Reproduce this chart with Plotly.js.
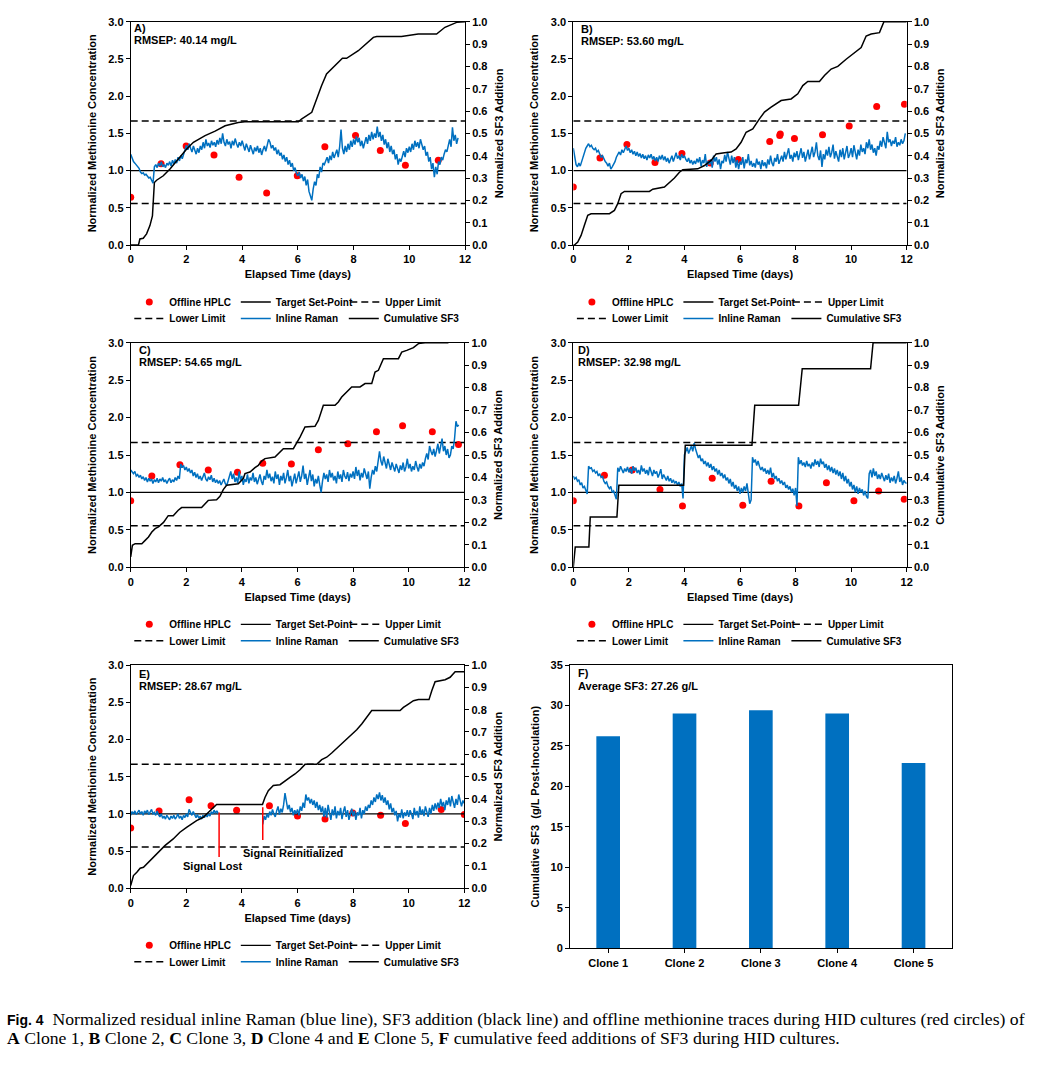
<!DOCTYPE html>
<html><head><meta charset="utf-8">
<script src="https://cdn.plot.ly/plotly-3.0.1.min.js"></script>
<style>body{margin:0;padding:0;background:#fff}#chart{width:1040px;height:1065px}</style>
</head><body><div id="chart"></div>
<script>
// ================= DATA =================
const ramanStep = 0.05;            // inline Raman sampling interval (days)
const timeSpan = [0, 12];          // culture duration (days)
const setPoint = 1.0;
const upperLimit = 1.667;
const lowerLimit = 0.556;

// ---- Clone 1 (A)
const hplcDaysA = [0, 1.09, 1.99, 2.99, 3.89, 4.88, 5.98, 6.97, 8.07, 8.96, 9.86, 11.04];
const hplcA     = [0.64, 1.09, 1.33, 1.21, 0.91, 0.70, 0.93, 1.32, 1.47, 1.27, 1.07, 1.14];
const sf3DaysA = [0,0.28,0.33,0.45,0.57,0.69,0.78,0.83,0.85,0.93,1.17,1.41,1.71,2.01,2.25,2.67,3.03,3.39,3.86,4.1,6.02,6.13,6.5,6.67,6.85,7.03,7.33,7.6,7.75,8.17,8.71,8.83,9.72,10.32,10.98,11.28,11.7,12];
const sf3A     = [0,0,0.027,0.03,0.05,0.087,0.13,0.22,0.28,0.29,0.31,0.34,0.385,0.43,0.46,0.49,0.51,0.534,0.549,0.552,0.552,0.564,0.594,0.654,0.713,0.766,0.803,0.836,0.836,0.87,0.93,0.934,0.934,0.945,0.945,0.975,0.997,1.0];
const ramanA = [
1.22,1.16,1.12,1.10,1.08,1.06,1.03,0.98,0.96,0.97,0.94,0.95,0.92,0.90,0.91,0.87,0.83,1.05,1.08,1.04,
1.10,1.06,1.12,1.05,1.08,1.04,1.10,1.07,1.12,1.06,1.14,1.09,1.15,1.10,1.18,1.13,1.20,1.16,1.22,1.30,
1.34,1.28,1.36,1.30,1.25,1.33,1.27,1.22,1.30,1.24,1.33,1.28,1.38,1.30,1.42,1.33,1.37,1.31,1.40,1.34,
1.38,1.32,1.41,1.35,1.44,1.36,1.50,1.38,1.33,1.42,1.35,1.39,1.30,1.40,1.34,1.43,1.36,1.31,1.38,1.33,
1.40,1.32,1.27,1.36,1.30,1.25,1.34,1.28,1.22,1.31,1.26,1.33,1.24,1.30,1.21,1.28,1.33,1.26,1.35,1.42,
1.38,1.30,1.34,1.27,1.31,1.22,1.28,1.20,1.24,1.15,1.21,1.12,1.18,1.08,1.14,1.05,1.10,1.00,1.04,0.96,
0.93,0.98,0.90,0.95,0.86,0.92,0.80,0.88,0.72,0.66,0.60,0.75,0.85,0.80,0.95,0.90,1.05,0.98,1.10,1.08,
1.12,1.18,1.10,1.20,1.14,1.25,1.17,1.22,1.28,1.18,1.32,1.55,1.30,1.22,1.33,1.25,1.36,1.28,1.40,1.32,
1.42,1.35,1.46,1.38,1.44,1.33,1.40,1.30,1.38,1.45,1.36,1.48,1.40,1.52,1.42,1.50,1.44,1.59,1.45,1.52,
1.40,1.48,1.35,1.42,1.30,1.38,1.25,1.33,1.22,1.28,1.15,1.22,1.08,1.16,1.12,1.20,1.26,1.18,1.30,1.24,
1.32,1.25,1.36,1.28,1.40,1.32,1.38,1.30,1.42,1.35,1.28,1.33,1.20,1.25,1.12,1.18,1.02,1.10,0.91,1.05,
0.95,1.12,1.08,1.18,1.14,1.22,1.28,1.25,1.35,1.42,1.32,1.58,1.40,1.48,1.36,1.44];

// ---- Clone 2 (B)
const hplcDaysB = [0, 0.96, 1.93, 2.94, 3.91, 4.93, 5.94, 7.07, 7.43, 7.45, 7.96, 8.97, 9.93, 10.92, 11.92];
const hplcB     = [0.78, 1.17, 1.35, 1.11, 1.23, 1.10, 1.15, 1.39, 1.47, 1.49, 1.43, 1.48, 1.60, 1.86, 1.89];
const sf3DaysB = [0,0.04,0.16,0.28,0.4,0.52,0.64,1.3,1.48,1.6,1.72,1.84,2.74,2.86,3.28,3.46,3.64,3.82,3.94,4.48,4.72,4.96,5.14,5.44,5.68,5.86,6.04,6.22,6.46,6.7,6.88,7.12,7.3,7.48,7.84,8.08,8.26,8.44,8.86,9.04,9.28,9.52,9.82,10.06,10.36,10.54,10.72,11.02,11.18,12];
const sf3B     = [0,0,0.013,0.043,0.088,0.133,0.14,0.14,0.155,0.185,0.23,0.24,0.24,0.25,0.26,0.28,0.30,0.326,0.337,0.341,0.356,0.379,0.408,0.413,0.416,0.43,0.46,0.505,0.52,0.565,0.595,0.617,0.632,0.647,0.654,0.677,0.714,0.732,0.732,0.759,0.788,0.80,0.832,0.854,0.884,0.936,0.945,0.951,1.0,1.0];
const ramanB = [
1.30,1.15,1.08,1.05,1.10,1.06,1.12,1.18,1.25,1.30, 1.33,1.36,1.32,1.34,1.30,1.28,1.30,1.25,1.27,1.22,
1.18,1.20,1.15,1.12,1.10,1.06,1.10,1.02,1.05,1.08, 1.12,1.18,1.22,1.25,1.21,1.28,1.24,1.30,1.33,1.27,
1.30,1.24,1.28,1.22,1.26,1.20,1.25,1.19,1.23,1.17, 1.22,1.16,1.20,1.14,1.21,1.17,1.22,1.15,1.19,1.13,
1.18,1.12,1.20,1.15,1.21,1.14,1.19,1.12,1.17,1.10, 1.15,1.20,1.12,1.18,1.24,1.16,1.20,1.14,1.22,1.17,
1.20,1.15,1.12,1.17,1.10,1.14,1.08,1.13,1.09,1.16, 1.11,1.18,1.06,1.14,1.10,1.22,1.05,1.13,1.08,1.15,
1.04,1.20,1.12,1.18,1.08,1.15,1.02,1.13,1.10,1.21, 1.12,1.25,1.15,1.08,1.20,1.10,1.18,1.04,1.14,1.02,
1.12,1.08,1.18,1.03,1.15,1.10,1.22,1.07,1.13,1.05, 1.10,1.04,1.16,1.08,1.12,1.02,1.14,1.06,1.11,1.03,
1.15,1.08,1.20,1.10,1.06,1.17,1.12,1.22,1.09,1.15, 1.20,1.12,1.25,1.15,1.22,1.30,1.16,1.21,1.12,1.24,
1.18,1.26,1.14,1.22,1.30,1.17,1.25,1.12,1.20,1.28, 1.15,1.22,1.32,1.18,1.25,1.38,1.20,1.14,1.27,1.05,
1.22,1.15,1.28,1.20,1.32,1.18,1.24,1.35,1.16,1.26, 1.20,1.12,1.28,1.18,1.30,1.15,1.24,1.33,1.17,1.22,
1.30,1.18,1.34,1.22,1.15,1.28,1.20,1.35,1.25,1.30, 1.22,1.38,1.30,1.42,1.28,1.35,1.24,1.30,1.20,1.33,
1.28,1.40,1.32,1.45,1.35,1.30,1.52,1.38,1.42,1.33, 1.40,1.36,1.45,1.32,1.38,1.34,1.42,1.36,1.40,1.50];

// ---- Clone 3 (C)
const hplcDaysC = [0, 0.76, 1.77, 2.79, 3.84, 4.75, 5.78, 6.75, 7.81, 8.84, 9.78, 10.85, 11.79];
const hplcC     = [0.89, 1.22, 1.37, 1.30, 1.27, 1.39, 1.38, 1.57, 1.65, 1.81, 1.89, 1.81, 1.64];
const sf3DaysC = [0,0.06,0.16,0.4,0.52,0.64,0.76,0.88,1.0,1.18,1.35,1.53,1.71,1.83,2.55,2.67,2.79,3.09,3.21,3.33,3.45,3.87,4.05,4.11,4.29,4.47,4.59,4.71,4.83,5.19,5.37,5.49,5.85,5.97,6.09,6.27,6.63,6.75,6.93,7.35,7.47,7.59,7.71,7.95,8.25,8.43,8.67,8.79,8.91,9.09,9.63,9.75,9.93,10.17,10.35,10.59,11.43];
const sf3C     = [0.046,0.098,0.105,0.105,0.12,0.135,0.157,0.172,0.18,0.2,0.23,0.23,0.254,0.266,0.266,0.283,0.298,0.301,0.316,0.346,0.365,0.372,0.395,0.417,0.424,0.444,0.454,0.473,0.484,0.491,0.513,0.528,0.528,0.553,0.58,0.625,0.628,0.654,0.721,0.721,0.736,0.758,0.773,0.803,0.803,0.818,0.818,0.869,0.877,0.929,0.929,0.958,0.966,0.978,0.996,1.0,1.0];
const ramanC = [
1.30,1.27,1.25,1.28,1.22,1.24,1.20,1.23,1.18,1.21, 1.16,1.20,1.14,1.19,1.15,1.18,1.12,1.17,1.14,1.19,
1.13,1.18,1.15,1.20,1.14,1.17,1.12,1.16,1.19,1.13, 1.17,1.14,1.20,1.16,1.22,1.18,1.38,1.33,1.36,1.30,
1.34,1.28,1.32,1.26,1.30,1.22,1.27,1.20,1.25,1.18, 1.22,1.16,1.20,1.26,1.18,1.15,1.21,1.17,1.23,1.14,
1.19,1.13,1.17,1.12,1.16,1.10,1.14,1.18,1.12,1.09, 1.15,1.22,1.28,1.18,1.25,1.14,1.20,1.12,1.28,1.16,
1.22,1.10,1.18,1.14,1.24,1.12,1.20,1.16,1.26,1.14, 1.20,1.11,1.18,1.24,1.15,1.10,1.22,1.17,1.30,1.19,
1.25,1.15,1.21,1.12,1.28,1.18,1.24,1.10,1.22,1.16, 1.26,1.12,1.20,1.30,1.15,1.22,1.08,1.18,1.25,1.12,
1.20,1.28,1.14,1.22,1.36,1.18,1.25,1.10,1.20,1.30, 1.15,1.24,1.08,1.18,1.12,1.22,1.10,1.00,1.15,1.26,
1.18,1.24,1.14,1.30,1.20,1.26,1.16,1.22,1.12,1.28, 1.18,1.24,1.14,1.30,1.22,1.18,1.27,1.15,1.25,1.20,
1.28,1.18,1.34,1.22,1.30,1.16,1.26,1.20,1.32,1.24, 1.18,1.28,1.05,1.20,1.30,1.24,1.35,1.28,1.40,1.55,
1.42,1.36,1.48,1.38,1.32,1.45,1.35,1.30,1.40,1.33, 1.28,1.38,1.32,1.26,1.36,1.30,1.40,1.28,1.34,1.45,
1.32,1.38,1.28,1.35,1.30,1.42,1.34,1.28,1.38,1.32, 1.40,1.35,1.45,1.52,1.44,1.62,1.55,1.50,1.58,1.48,
1.56,1.65,1.52,1.60,1.72,1.55,1.62,1.50,1.58,1.46, 1.50,1.62,1.58,1.72,1.95,1.88,1.90];

// ---- Clone 4 (D)
const hplcDaysD = [0, 1.12, 2.12, 3.12, 3.93, 5.0, 6.1, 7.12, 8.12, 9.11, 10.1, 10.99, 11.91];
const hplcD     = [0.89, 1.23, 1.30, 1.04, 0.82, 1.19, 0.83, 1.15, 0.82, 1.13, 0.89, 1.02, 0.91];
const sf3DaysD = [0,0.07,0.56,0.61,1.57,1.64,3.97,4.03,6.43,6.49,6.53,8.11,8.24,10.7,10.79,12];
const sf3D     = [0,0.09,0.09,0.224,0.224,0.365,0.365,0.543,0.543,0.684,0.721,0.721,0.884,0.884,1.0,1.0];
const ramanD = [
1.22,1.18,1.20,1.15,1.17,1.10,1.13,1.06,1.08,1.02, 0.98,1.35,1.32,1.33,1.28,1.30,1.26,1.28,1.22,1.25,
1.20,1.22,1.15,1.12,1.14,1.08,1.05,1.08,1.00,1.02, 0.97,0.91,1.33,1.28,1.35,1.30,1.26,1.32,1.28,1.34,
1.27,1.32,1.25,1.35,1.29,1.33,1.26,1.30,1.24,1.36, 1.28,1.32,1.25,1.30,1.23,1.34,1.27,1.22,1.30,1.25,
1.28,1.20,1.25,1.31,1.18,1.24,1.20,1.16,1.22,1.15, 1.19,1.13,1.17,1.12,1.15,1.10,1.14,1.08,1.12,0.92,
1.50,1.55,1.60,1.52,1.58,1.62,1.55,1.66,1.58,1.50, 1.46,1.50,1.42,1.45,1.38,1.42,1.35,1.40,1.33,1.38,
1.30,1.35,1.28,1.32,1.24,1.30,1.22,1.26,1.19,1.24, 1.16,1.20,1.12,1.18,1.08,1.14,1.05,1.10,1.02,1.08,
0.98,1.06,1.00,1.08,1.02,1.12,0.95,0.85,0.90,1.47, 1.40,1.44,1.36,1.42,1.35,1.30,1.34,1.28,1.32,1.25,
1.30,1.24,1.33,1.20,1.26,1.18,1.22,1.15,1.19,1.12, 1.16,1.10,1.14,1.06,1.10,1.04,1.08,1.00,1.05,0.96,
1.06,0.82,1.47,1.38,1.43,1.36,1.40,1.34,1.42,1.35, 1.38,1.32,1.40,1.35,1.44,1.37,1.42,1.34,1.45,1.38,
1.41,1.33,1.38,1.30,1.36,1.28,1.34,1.26,1.32,1.24, 1.30,1.22,1.28,1.18,1.26,1.15,1.22,1.12,1.18,1.08,
1.14,1.04,1.10,1.00,1.08,0.98,1.06,1.00,1.04,0.96, 1.02,0.95,0.92,1.25,1.30,1.20,1.32,1.22,1.28,1.18,
1.24,1.18,1.26,1.20,1.15,1.23,1.17,1.25,1.13,1.20, 1.15,1.22,1.12,1.19,1.28,1.14,1.20,1.10,1.16,1.13,
1.12];

// ---- Clone 5 (E)
const hplcDaysE = [0, 1.02, 2.1, 2.89, 3.81, 4.99, 6.0, 6.99, 7.99, 8.99, 9.88, 11.17, 12.0];
const hplcE     = [0.81, 1.04, 1.19, 1.11, 1.05, 1.11, 0.97, 0.93, 1.01, 0.98, 0.87, 1.06, 0.99];
const sf3DaysE = [0,0.1,0.22,0.34,0.46,0.58,0.76,1.0,1.23,1.53,1.77,2.01,2.19,2.37,2.61,2.79,2.97,3.09,4.74,4.83,4.95,5.13,5.37,5.55,5.73,5.91,6.09,6.27,6.69,6.87,7.05,7.23,7.41,7.59,7.77,7.95,8.13,8.31,8.49,8.67,9.69,9.81,9.99,10.17,10.35,10.73,10.83,10.95,11.31,11.49,11.67,12];
const sf3E     = [0.012,0.057,0.072,0.09,0.094,0.109,0.131,0.161,0.191,0.221,0.251,0.273,0.288,0.303,0.318,0.34,0.363,0.375,0.375,0.407,0.437,0.46,0.464,0.482,0.497,0.512,0.531,0.555,0.555,0.576,0.587,0.606,0.627,0.646,0.669,0.687,0.71,0.736,0.766,0.796,0.796,0.81,0.825,0.84,0.845,0.845,0.885,0.925,0.934,0.945,0.97,0.97];
const ramanE = [
0.98,1.03,1.00,1.04,0.99,1.02,1.05,1.00,1.03,0.98, 1.04,1.01,1.05,0.99,1.03,1.06,1.00,1.02,0.98,1.04,
0.99,0.96,1.00,0.94,0.97,0.93,0.98,0.95,0.92,0.97, 0.94,0.98,0.93,0.96,1.00,0.94,0.97,0.92,0.98,0.95,
1.00,0.96,1.06,1.02,0.98,1.03,0.99,0.95,0.99,0.94, 0.97,0.93,0.98,0.95,0.99,0.96,1.00,0.97,1.03,1.00,
1.05,1.01,1.04,1.00,
null,null,null,null,null,null,null,null,null,null,null,null,null,null,null,null,
null,null,null,null,null,null,null,null,null,null,null,null,null,null,null,
0.86,0.97,0.92,1.00,0.95,
1.03,0.98,1.06,1.00,0.96,1.04,1.10,0.99,1.07,1.02, 1.12,1.28,1.15,1.06,1.12,1.02,1.08,0.98,1.05,1.00,
1.06,0.98,1.10,1.04,1.15,1.08,1.26,1.18,1.22,1.14, 1.20,1.12,1.18,1.08,1.16,1.05,1.12,1.02,1.10,0.96,
1.08,0.95,1.12,1.00,0.92,1.06,0.98,1.10,0.94,1.04, 0.98,1.08,0.93,1.03,1.10,0.96,1.05,0.92,1.02,1.07,
0.97,1.04,0.92,1.02,0.98,1.08,0.94,1.05,1.00,1.10, 1.04,1.12,1.08,1.18,1.12,1.22,1.16,1.26,1.20,1.29,
1.18,1.25,1.15,1.22,1.12,1.18,1.06,1.14,1.02,1.08, 0.98,1.04,0.90,1.00,0.95,1.06,0.94,1.02,0.97,1.05,
0.96,1.05,1.00,0.93,1.08,0.98,1.04,0.95,1.10,0.99, 1.06,0.97,1.10,1.02,0.96,1.08,1.00,1.12,1.04,1.14,
1.06,1.15,1.08,1.20,1.10,1.16,1.05,1.18,1.12,1.22, 1.10,1.24,1.14,1.08,1.20,1.12,1.26,1.15,1.10,1.18,
1.14];
const signalEventDays   = [3.18, 4.75];
const signalEventTop    = [1.02, 1.09];
const signalEventBottom = [0.42, 0.65];
const signalEventLabels = ['Signal Lost', 'Signal Reinitialized'];

// ---- Panel F
const clones = ['Clone 1', 'Clone 2', 'Clone 3', 'Clone 4', 'Clone 5'];
const cumulativeSF3 = [26.2, 29.0, 29.4, 29.0, 22.9];

// ================= LAYOUT =================
const W = 1040, H = 1065;
const FONT = 'Liberation Sans, Arial, sans-serif';
const bold = s => ({family: FONT, size: s, color: '#000', weight: 'bold'});

const panels = [
  {tag:'A)', note:'RMSEP: 40.14 mg/L', hd:hplcDaysA, h:hplcA, r:ramanA, sd:sf3DaysA, s:sf3A, rt:'Normalized SF3 Addition'},
  {tag:'B)', note:'RMSEP: 53.60 mg/L', hd:hplcDaysB, h:hplcB, r:ramanB, sd:sf3DaysB, s:sf3B, rt:'Normalized SF3 Addition'},
  {tag:'C)', note:'RMSEP: 54.65 mg/L', hd:hplcDaysC, h:hplcC, r:ramanC, sd:sf3DaysC, s:sf3C, rt:'Normalized SF3 Addition'},
  {tag:'D)', note:'RMSEP: 32.98 mg/L', hd:hplcDaysD, h:hplcD, r:ramanD, sd:sf3DaysD, s:sf3D, rt:'Cummulative SF3 Addition'},
  {tag:'E)', note:'RMSEP: 28.67 mg/L', hd:hplcDaysE, h:hplcE, r:ramanE, sd:sf3DaysE, s:sf3E, rt:'Normalized SF3 Addition'}
];
const boxes = [
  {l:130.7, r:465.0, t:21.7, b:245.0, ix:1.5, iy:6},
  {l:573.3, r:906.7, t:21.7, b:245.0, ix:6, iy:7.3},
  {l:130.7, r:464.3, t:342.7, b:567.3, ix:6, iy:7.5},
  {l:573.3, r:906.7, t:342.7, b:567.3, ix:3, iy:7.5},
  {l:130.7, r:464.3, t:665.0, b:888.3, ix:6, iy:8.5}
];
const boxF = {l:570, r:951.7, t:665, b:948.3};

const data = [];
const layout = {
  width: W, height: H, margin: {l:0, r:0, t:0, b:0},
  paper_bgcolor: '#fff', plot_bgcolor: 'rgba(0,0,0,0)',
  font: {family: FONT, color: '#000'},
  showlegend: true, hovermode: false, bargap: 0.69,
  annotations: []
};
const axBase = {ticks:'outside', ticklen:4, tickwidth:1, tickcolor:'#000', showline:true, linecolor:'#000', linewidth:1,
  showgrid:false, zeroline:false, tickfont:bold(11), fixedrange:true};
function legendCfg(xpx, ypx) {
  return {orientation:'h', x:xpx/W, y:1-ypx/H, xanchor:'left', yanchor:'middle', entrywidth:61.5, entrywidthmode:'pixels',
    itemwidth:30, font:bold(10), bgcolor:'rgba(0,0,0,0)', borderwidth:0, tracegroupgap:0};
}

panels.forEach((p, i) => {
  const b = boxes[i];
  const xn = i === 0 ? '' : String(i + 1);
  const yl = i === 0 ? '' : String(2 * i + 1);
  const yr = String(2 * i + 2);
  const xa = 'x' + xn, ya = 'y' + yl, yb = 'y' + yr;
  const lg1 = i === 0 ? 'legend' : 'legend' + (2 * i + 1);
  const lg2 = 'legend' + (2 * i + 2);
  const limitLine = v => timeSpan.map(() => v);

  data.push({type:'scatter', mode:'markers', x:p.hd, y:p.h, xaxis:xa, yaxis:ya, name:'Offline HPLC', legend:lg1,
    marker:{color:'#FF0000', size:7}});
  data.push({type:'scatter', mode:'lines', x:timeSpan, y:limitLine(setPoint), xaxis:xa, yaxis:ya, name:'Target Set-Point', legend:lg1,
    legendwidth:64.5, line:{color:'#000', width:1.3}});
  data.push({type:'scatter', mode:'lines', x:timeSpan, y:limitLine(upperLimit), xaxis:xa, yaxis:ya, name:'Upper Limit', legend:lg1,
    legendwidth:90, line:{color:'#000', width:1.5, dash:'7px,4px'}});
  data.push({type:'scatter', mode:'lines', x:timeSpan, y:limitLine(lowerLimit), xaxis:xa, yaxis:ya, name:'Lower Limit', legend:lg2,
    line:{color:'#000', width:1.5, dash:'7px,4px'}});
  data.push({type:'scatter', mode:'lines', x0:0, dx:ramanStep, y:p.r, xaxis:xa, yaxis:ya, name:'Inline Raman', legend:lg2,
    legendwidth:63, connectgaps:false, line:{color:'#0070C0', width:1.5}});
  if (i === 4) {
    const sx = [], sy = [];
    signalEventDays.forEach((d, k) => { sx.push(d, d, null); sy.push(signalEventTop[k], signalEventBottom[k], null); });
    data.push({type:'scatter', mode:'lines', x:sx, y:sy, xaxis:xa, yaxis:ya, showlegend:false, line:{color:'#FF0000', width:1.5}});
  }
  data.push({type:'scatter', mode:'lines', x:p.sd, y:p.s, xaxis:xa, yaxis:yb, name:'Cumulative SF3', legend:lg2,
    legendwidth:90, line:{color:'#000', width:1.5}});

  layout['xaxis' + xn] = Object.assign({}, axBase, {domain:[b.l/W, b.r/W], anchor:ya, range:[0,12], tick0:0, dtick:2, mirror:true,
    title:{text:'Elapsed Time (days)', font:bold(11), standoff:6}});
  layout['yaxis' + yl] = Object.assign({}, axBase, {domain:[1-b.b/H, 1-b.t/H], anchor:xa, range:[0,3], tick0:0, dtick:0.5, tickformat:'.1f',
    title:{text:'Normalized Methionine Concentration', font:bold(11), standoff:9}});
  layout['yaxis' + yr] = Object.assign({}, axBase, {overlaying:ya, anchor:xa, side:'right', range:[0,1], tick0:0, dtick:0.1, tickformat:'.1f',
    title:{text:p.rt, font:bold(11), standoff:7}});

  layout[lg1] = legendCfg(b.l - 1.4, b.b + 57);
  layout[lg2] = legendCfg(b.l - 1.4, b.b + 73.5);

  layout.annotations.push({xref:'paper', yref:'paper', x:(b.l + b.ix)/W, y:1-(b.t + b.iy)/H, xanchor:'left', yanchor:'middle',
    showarrow:false, text:p.tag, font:bold(11)});
  layout.annotations.push({xref:'paper', yref:'paper', x:(b.l + b.ix)/W, y:1-(b.t + b.iy + 12)/H, xanchor:'left', yanchor:'middle',
    showarrow:false, text:p.note, font:bold(11)});
});

// Signal annotations (panel E)
layout.annotations.push({xref:'x5', yref:'y9', x:2.97, y:0.30, showarrow:false, text:signalEventLabels[0], font:bold(11)});
layout.annotations.push({xref:'x5', yref:'y9', x:5.85, y:0.47, showarrow:false, text:signalEventLabels[1], font:bold(11)});

// Panel F
data.push({type:'bar', x:clones, y:cumulativeSF3, xaxis:'x6', yaxis:'y11', showlegend:false, marker:{color:'#0070C0', line:{width:0}}});
layout.xaxis6 = Object.assign({}, axBase, {domain:[boxF.l/W, boxF.r/W], anchor:'y11', type:'category', mirror:true, range:[-0.5, 4.5]});
layout.yaxis11 = Object.assign({}, axBase, {domain:[1-boxF.b/H, 1-boxF.t/H], anchor:'x6', range:[0,35], tick0:0, dtick:5, mirror:true,
  title:{text:'Cumulative SF3&nbsp;&nbsp;(g/L Post-Inoculation)', font:bold(11), standoff:8}});
layout.annotations.push({xref:'paper', yref:'paper', x:(boxF.l + 6)/W, y:1-(boxF.t + 8)/H, xanchor:'left', yanchor:'middle',
  showarrow:false, text:'F)', font:bold(11)});
layout.annotations.push({xref:'paper', yref:'paper', x:(boxF.l + 6)/W, y:1-(boxF.t + 20.5)/H, xanchor:'left', yanchor:'middle',
  showarrow:false, text:'Average SF3: 27.26 g/L', font:bold(11)});

// Caption
const capFont = {family:'Liberation Serif, Times New Roman, serif', size:17.7, color:'#000'};
const figTag = '<span style="font-family:Liberation Sans;font-weight:bold;font-size:14px">Fig. 4</span>&nbsp;&nbsp;';
layout.annotations.push({xref:'paper', yref:'paper', x:5/W, y:1-1019/H, xanchor:'left', yanchor:'middle', showarrow:false, align:'left',
  font:capFont, text: figTag + 'Normalized residual inline Raman (blue line), SF3 addition (black line) and offline methionine traces during HID cultures (red circles) of'});
layout.annotations.push({xref:'paper', yref:'paper', x:5/W, y:1-1038/H, xanchor:'left', yanchor:'middle', showarrow:false, align:'left',
  font:capFont, text:'<b>A</b> Clone 1, <b>B</b> Clone 2, <b>C</b> Clone 3, <b>D</b> Clone 4 and <b>E</b> Clone 5, <b>F</b> cumulative feed additions of SF3 during HID cultures.'});

Plotly.newPlot('chart', data, layout, {staticPlot:true, displayModeBar:false});
</script>
</body></html>
